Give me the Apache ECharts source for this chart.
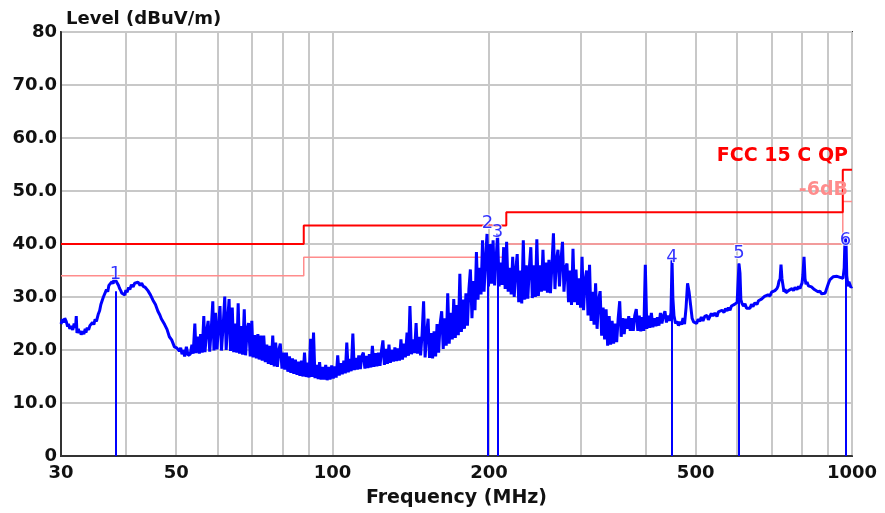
<!DOCTYPE html>
<html>
<head>
<meta charset="utf-8">
<script src="https://cdn.jsdelivr.net/npm/echarts@6/dist/echarts.min.js"></script>
<style>
  html, body { margin: 0; padding: 0; background: #fff; }
  #chart { width: 885px; height: 513px; }
</style>
</head>
<body>
<div id="chart"></div>
<script>
// 频率网格线和刻度标签 (MHz)
const gridFreqs = [30, 40, 50, 60, 70, 80, 90, 100, 200, 300, 400, 500, 600, 700, 800, 900, 1000];
const labelFreqs = [30, 50, 100, 200, 500, 1000];

// 限值线 [MHz, dBuV/m]
const fccQp = [[30, 40], [88, 40], [88, 43.5], [216, 43.5], [216, 46], [960, 46], [960, 54], [1000, 54]];
const fccMargin = [[30, 34], [88, 34], [88, 37.5], [216, 37.5], [216, 40], [960, 40], [960, 48], [1000, 48]];

// 标记点
const markerNo = ['1', '2', '3', '4', '5', '6'];
const markerFreq = [38.2, 198.6, 207.6, 450.3, 605.9, 971];
const markerLevel = [31.1, 40, 40, 37, 36.3, 41.3];
const markerLabelLevel = [34.2, 43.9, 42.2, 37.4, 38.3, 40.7];

// 扫描曲线 [MHz, dBuV/m]
const trace = [
    [30.0, 24.9], [30.2, 25.8], [30.4, 25.2], [30.5, 26.0], [30.7, 25.4], [30.9, 24.4],
    [31.0, 24.9], [31.2, 24.0], [31.4, 24.5], [31.6, 23.8], [31.8, 25.0], [32.0, 24.2],
    [32.1, 26.4], [32.2, 23.2], [32.4, 24.0], [32.5, 23.2], [32.7, 23.6], [32.8, 22.9],
    [33.0, 23.5], [33.2, 23.0], [33.4, 24.0], [33.5, 23.3], [33.7, 24.2], [33.9, 23.8],
    [34.1, 24.6], [34.3, 24.3], [34.5, 25.2], [34.7, 24.8], [34.9, 25.8], [35.1, 25.4],
    [35.4, 26.8], [35.6, 27.4], [35.8, 28.6], [36.0, 28.5], [36.2, 30.0], [36.5, 30.3],
    [36.7, 31.4], [36.9, 31.0], [37.1, 32.2], [37.3, 31.9], [37.6, 32.9], [37.8, 32.5],
    [38.0, 33.6], [38.2, 33.2], [38.4, 33.4], [38.5, 32.6], [38.7, 32.2], [38.9, 31.6],
    [39.1, 31.2], [39.3, 30.7], [39.6, 31.0], [39.8, 30.4], [40.0, 31.3], [40.2, 30.9],
    [40.5, 31.8], [40.7, 31.4], [41.0, 32.3], [41.3, 31.9], [41.6, 32.6], [41.9, 32.3],
    [42.2, 32.8], [42.6, 32.2], [42.9, 32.6], [43.2, 32.0], [43.6, 31.8], [44.1, 31.2],
    [44.6, 30.4], [45.1, 29.4], [45.6, 28.6], [46.1, 27.3], [46.5, 26.6], [46.8, 25.9],
    [47.2, 25.6], [47.5, 24.8], [48.0, 23.9], [48.5, 22.5], [49.0, 21.9], [49.6, 20.6],
    [50.1, 20.4], [50.7, 19.8], [51.0, 20.4], [51.3, 19.2], [51.6, 20.0], [51.9, 18.8],
    [52.3, 20.6], [52.7, 19.0],
    [53.2, 19.2], [53.6, 21.0], [53.9, 19.3], [54.3, 25.0], [54.6, 19.4], [55.0, 22.5],
    [55.4, 19.3], [55.7, 23.0], [56.1, 19.5], [56.5, 26.4], [56.8, 19.6], [57.2, 23.5],
    [57.6, 25.5], [58.0, 19.7], [58.4, 24.0], [58.8, 29.2], [59.1, 19.9], [59.5, 27.0],
    [59.9, 20.1], [60.3, 24.5], [60.7, 28.3], [61.1, 19.9], [61.6, 25.0], [62.0, 30.1],
    [62.4, 20.0], [62.8, 25.5], [63.2, 29.6], [63.6, 19.8], [64.1, 28.0], [64.5, 19.6],
    [64.9, 25.0], [65.4, 19.5], [65.8, 28.8], [66.2, 19.3], [66.7, 24.5], [67.1, 19.1],
    [67.6, 27.7], [68.0, 19.0], [68.5, 24.0], [68.9, 25.1], [69.4, 18.8], [69.9, 25.5],
    [70.3, 18.6], [70.8, 22.8], [71.3, 18.4], [71.8, 23.0], [72.2, 18.2], [72.7, 22.7],
    [73.2, 18.0], [73.7, 22.7], [74.2, 17.7], [74.7, 21.0], [75.2, 17.4], [75.7, 20.8],
    [76.2, 17.2], [76.7, 22.7], [77.2, 16.9], [77.7, 21.4], [78.3, 16.8], [78.8, 20.0],
    [79.3, 21.2], [79.9, 16.5], [80.4, 19.5], [80.9, 16.3], [81.5, 19.5], [82.0, 15.9],
    [82.6, 18.8], [83.1, 15.7], [83.7, 18.4], [84.2, 15.5], [84.8, 18.2], [85.4, 15.3],
    [86.0, 17.8], [86.5, 15.1], [87.1, 18.0], [87.7, 15.0], [88.3, 19.5], [88.9, 14.9],
    [89.5, 17.6], [90.1, 14.8], [90.7, 22.1], [91.3, 14.9], [91.9, 23.3], [92.5, 14.7],
    [93.2, 17.2], [93.8, 14.5], [94.4, 17.7], [95.0, 14.4], [95.7, 16.8], [96.3, 14.4],
    [97.0, 17.2], [97.6, 14.3], [98.3, 16.8], [98.9, 14.4], [99.6, 17.1], [100.3, 14.6],
    [100.9, 16.9], [101.6, 14.8], [102.3, 19.0], [103.0, 15.2], [103.7, 17.5], [104.4, 15.4],
    [105.1, 18.0], [105.8, 15.6], [106.5, 21.4], [107.2, 15.8], [107.9, 18.3], [108.6, 16.0],
    [109.4, 23.1], [110.1, 16.2], [110.8, 18.5], [111.6, 16.3], [112.3, 19.0], [113.1, 16.4],
    [113.8, 18.8], [114.6, 19.5], [115.4, 16.5], [116.2, 18.9], [116.9, 16.6], [117.7, 19.2],
    [118.5, 16.7], [119.3, 20.8], [120.1, 16.8], [120.9, 19.4], [121.7, 16.9], [122.5, 19.5],
    [123.4, 17.0], [124.2, 19.8], [125.0, 21.8],
    [125.8, 17.2], [126.7, 20.2], [127.5, 17.4], [128.4, 21.0], [129.2, 17.6], [130.1, 20.0],
    [131.0, 17.8], [131.8, 20.5], [132.7, 17.9], [133.6, 20.3], [134.5, 18.0], [135.4, 22.0],
    [136.3, 18.2], [137.2, 21.2], [138.1, 18.6], [139.1, 23.3], [140.0, 18.9], [140.9, 28.3],
    [141.9, 19.2], [142.8, 22.0], [143.8, 19.4], [144.8, 25.1], [145.7, 19.3], [146.7, 22.5],
    [147.7, 19.0], [148.7, 23.0], [149.7, 29.2], [150.7, 18.6], [151.7, 23.0], [152.7, 25.9],
    [153.7, 18.5], [154.7, 23.2], [155.8, 18.4], [156.8, 23.5], [157.9, 18.8], [158.9, 24.9],
    [160.0, 19.5], [161.1, 25.0], [162.2, 27.3], [163.3, 20.2], [164.4, 26.0], [165.5, 20.8],
    [166.6, 30.7], [167.7, 21.2], [168.8, 27.0], [170.0, 22.0], [171.1, 29.6], [172.3, 22.3],
    [173.4, 28.5], [174.6, 22.8], [175.8, 34.4], [177.0, 23.4], [178.2, 29.5], [179.4, 24.0],
    [180.6, 30.7], [181.8, 24.6], [183.0, 31.5], [184.2, 35.2], [185.5, 26.0], [186.7, 33.0],
    [188.0, 27.5], [189.2, 38.5], [190.5, 29.5], [191.8, 35.5], [193.1, 30.5], [194.4, 40.7],
    [195.7, 31.0], [197.0, 37.0], [198.3, 41.9], [199.6, 32.0], [201.0, 40.0], [202.3, 32.5],
    [203.7, 40.7], [205.1, 32.2], [206.4, 37.0], [207.8, 41.9], [209.2, 32.0], [210.6, 36.5],
    [212.0, 32.3], [213.5, 39.4], [214.9, 31.5], [216.3, 40.4], [217.8, 31.0], [219.3, 35.5],
    [220.7, 30.5], [222.2, 37.6], [223.7, 30.0], [225.2, 35.0], [226.7, 38.1], [228.2, 29.0],
    [229.8, 35.0], [231.3, 28.8], [232.9, 40.7], [234.4, 29.5], [236.0, 36.0], [237.6, 29.7],
    [239.2, 35.5], [240.8, 39.4], [242.4, 29.8], [244.0, 36.0], [245.7, 30.0], [247.3, 40.9],
    [249.0, 30.2], [250.7, 36.0],
    [252.4, 31.0], [254.1, 38.9], [255.8, 31.2], [257.5, 36.5], [259.2, 30.8], [260.9, 37.0],
    [262.7, 30.7], [264.4, 36.0], [266.2, 42.0], [268.0, 31.5], [269.8, 37.0], [271.6, 38.9],
    [273.4, 32.0], [275.2, 37.0], [277.1, 40.4], [278.9, 31.0], [280.8, 35.5], [282.7, 36.3],
    [284.6, 29.0], [286.5, 35.0], [288.4, 28.5], [290.3, 39.1], [292.3, 29.0], [294.2, 35.2],
    [296.2, 28.5], [298.2, 33.5], [300.2, 28.0], [302.2, 37.6], [304.2, 27.5], [306.2, 33.0],
    [308.3, 35.0], [310.3, 26.5], [312.4, 36.1], [314.5, 25.5], [316.6, 31.0], [318.7, 24.8],
    [320.9, 32.6], [323.0, 24.0], [325.2, 29.5], [327.4, 31.1], [329.6, 22.7], [331.8, 28.0],
    [334.0, 22.0], [336.2, 27.7], [338.5, 20.8], [340.8, 26.4], [343.0, 21.0], [345.3, 25.5],
    [347.6, 21.2], [350.0, 25.0], [352.3, 21.5], [354.7, 26.0], [357.1, 29.2], [359.4, 22.5],
    [361.9, 26.0], [364.3, 23.0], [366.7, 25.9], [369.2, 24.0], [371.7, 26.4], [374.2, 23.6],
    [376.7, 26.0], [379.2, 23.6], [381.7, 26.5], [384.3, 27.7], [386.9, 23.6], [389.5, 26.5],
    [392.1, 23.5], [394.7, 26.2], [397.4, 23.6], [400.0, 36.1], [402.7, 24.0], [405.4, 26.5],
    [408.1, 24.2], [410.9, 27.0], [413.6, 24.3], [416.4, 26.0], [419.2, 24.5], [422.0, 26.2],
    [424.9, 24.6], [427.7, 27.0], [430.6, 25.0], [433.5, 26.5], [436.4, 27.3], [439.3, 25.2],
    [442.3, 26.5], [445.2, 25.5], [448.2, 27.0], [450.3, 37.0], [452.0, 29.8], [454.2, 26.5],
    [457.3, 25.0], [460.3, 25.4], [463.4, 24.6], [466.5, 25.3], [469.7, 24.8], [472.8, 26.0],
    [476.0, 24.9], [479.2, 28.0], [482.4, 32.6], [485.6, 31.0], [488.9, 28.5], [492.2, 26.0],
    [495.5, 25.3], [498.8, 25.6], [502.2, 25.0], [505.5, 25.8], [509.0, 25.4],
    [512.8, 26.2], [516.5, 25.5], [521.0, 26.4], [525.7, 26.5], [529.0, 25.7], [532.8, 26.0],
    [536.0, 26.9], [539.9, 26.4], [544.5, 27.0], [549.6, 26.3], [553.0, 27.2], [557.0, 27.0],
    [562.0, 27.5], [567.0, 27.1], [571.0, 27.8], [574.7, 27.4], [578.5, 28.0], [582.2, 27.5],
    [586.0, 28.3], [590.0, 28.0], [594.0, 28.6], [597.9, 28.3], [601.0, 29.0], [603.2, 28.7],
    [605.9, 36.3], [608.6, 34.5], [611.0, 29.5], [614.0, 28.8], [618.0, 28.3], [622.2, 28.7],
    [626.5, 27.9], [630.6, 28.2], [636.2, 27.9], [640.5, 28.6], [644.7, 28.2], [650.5, 28.9],
    [656.3, 28.6], [660.5, 29.3], [665.1, 29.0], [669.5, 29.6], [674.0, 29.4], [678.5, 30.1],
    [683.1, 29.8], [689.0, 30.4], [695.2, 30.2], [700.0, 30.9], [704.5, 30.6], [710.5, 31.2],
    [717.1, 31.6], [720.5, 32.1], [723.5, 33.0], [727.0, 33.4], [730.0, 36.1], [733.0, 33.5],
    [736.4, 32.2], [739.5, 31.0], [743.0, 31.5], [746.0, 30.8], [749.5, 30.5], [754.5, 31.2],
    [759.7, 31.0], [766.4, 31.6], [771.5, 31.2], [776.7, 31.8], [783.5, 31.4], [789.0, 32.0],
    [794.2, 31.6], [798.0, 32.2], [801.3, 32.6], [804.5, 34.2], [808.4, 37.6], [812.0, 33.5],
    [815.5, 32.4], [819.2, 32.8], [824.5, 32.1], [830.2, 32.4], [835.5, 31.9], [841.3, 32.0],
    [846.5, 31.4], [852.6, 31.5], [860.0, 31.0], [867.8, 31.1], [873.5, 30.6], [879.4, 30.9],
    [887.2, 30.7], [891.0, 31.2], [895.1, 31.5], [901.0, 32.6], [907.2, 33.3], [913.3, 33.6],
    [919.4, 33.8], [927.5, 34.0], [935.8, 33.9], [942.0, 34.1], [948.3, 33.7], [954.5, 33.9],
    [961.0, 33.5], [966.0, 35.5], [969.6, 41.3], [973.9, 40.5], [977.0, 34.0], [982.6, 32.0],
    [986.5, 32.9], [991.3, 32.6], [995.5, 31.8], [1000, 32.0]
];

const chart = echarts.init(document.getElementById('chart'));
const fontFam = '"DejaVu Sans", Verdana, sans-serif';
const boldText = { fontFamily: fontFam, fontWeight: 'bold', fontSize: 18, color: '#111' };

chart.setOption({
    animation: false,
    backgroundColor: '#fff',
    title: {
        text: 'Level (dBuV/m)',
        left: 61, top: 5,
        textStyle: { ...boldText }
    },
    grid: { left: 61, right: 33, top: 32, bottom: 51, show: true, borderColor: '#333', borderWidth: 2 },
    xAxis: {
        type: 'log',
        logBase: 10,
        min: 30, max: 1000,
        name: 'Frequency (MHz)',
        nameLocation: 'middle',
        nameGap: 33,
        nameTextStyle: { ...boldText, fontSize: 19 },
        axisLine: { lineStyle: { color: '#333', width: 2 } },
        axisTick: { show: false, customValues: gridFreqs },
        axisLabel: { customValues: labelFreqs, margin: 8, ...boldText, formatter: v => String(v) },
        splitLine: { show: true, lineStyle: { color: '#c8c8c8', width: 2 } }
    },
    yAxis: {
        type: 'value',
        min: 0, max: 80, interval: 10,
        axisLine: { show: true, lineStyle: { color: '#333', width: 2 } },
        axisTick: { show: false },
        axisLabel: {
            margin: 4, ...boldText,
            formatter: v => (v === 0 || v === 80) ? String(v) : v.toFixed(1)
        },
        splitLine: { show: true, lineStyle: { color: '#c8c8c8', width: 2 } }
    },
    graphic: [
        { type: 'text', right: 37, top: 147, z: 10, style: { text: 'FCC 15 C QP', fill: '#ff0000', font: 'bold 19px ' + fontFam } },
        { type: 'text', right: 37, top: 181, z: 10, style: { text: '-6dB', fill: '#ff8c8c', font: 'bold 19px ' + fontFam } }
    ],
    series: [
        {
            name: 'FCC 15 C QP -6dB', type: 'line', data: fccMargin, symbol: 'none', z: 2,
            lineStyle: { color: '#ff8c8c', width: 1.5 }
        },
        {
            name: 'FCC 15 C QP', type: 'line', data: fccQp, symbol: 'none', z: 4,
            lineStyle: { color: '#ff0000', width: 2 }
        },
        {
            name: 'Level', type: 'line', data: trace, symbol: 'none', z: 3,
            lineStyle: { color: '#0000ff', width: 3 },
            markLine: {
                silent: true, symbol: 'none', animation: false,
                label: { show: false },
                lineStyle: { color: '#0000ff', width: 2, type: 'solid' },
                data: markerFreq.map((f, i) => [{ coord: [f, 0] }, { coord: [f, markerLevel[i]] }])
            }
        },
        {
            name: 'Markers', type: 'scatter', z: 5,
            data: markerFreq.map((f, i) => [f, markerLabelLevel[i], markerNo[i]]),
            symbolSize: 1,
            itemStyle: { color: 'rgba(0,0,0,0)' },
            label: {
                show: true, position: 'inside',
                formatter: p => p.value[2],
                fontFamily: fontFam,
                fontSize: 18, color: '#0000ff',
                textBorderColor: '#ffffff', textBorderWidth: 2
            }
        }
    ]
});
</script>
</body>
</html>
